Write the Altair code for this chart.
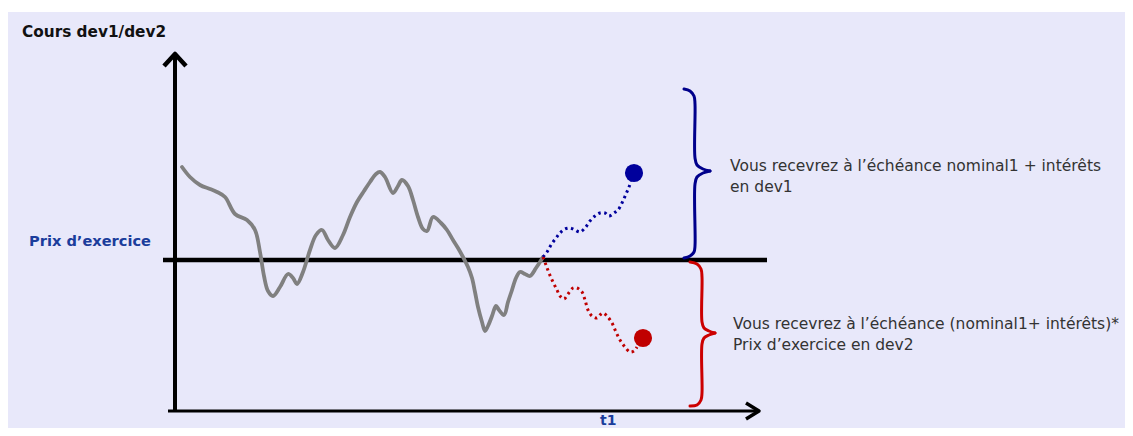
import altair as alt
import pandas as pd

# ---- data (screen-pixel coordinates) ----
gray_x = [182, 190, 200, 210, 217, 225, 235, 247, 255, 260, 264, 268, 273, 280, 288, 293, 297, 303, 310, 316, 322, 328, 335, 343, 350, 357, 364, 370, 376, 380, 385, 393, 398, 402, 408, 413, 418, 423, 427, 433, 441, 447, 453, 458, 463, 468, 472, 475, 478, 482, 485, 488, 492, 496, 499, 504, 508, 512, 516, 520, 525, 530, 536, 540, 543]
gray_y = [167, 177, 185, 189, 192, 197, 214, 220, 230, 252, 276, 291, 296, 287, 274, 278, 284, 272, 250, 235, 230, 240, 248, 235, 217, 202, 191, 182, 174, 172, 177, 193, 186, 180, 186, 200, 217, 229, 231, 217, 223, 230, 240, 248, 257, 267, 278, 292, 307, 322, 331, 326, 316, 306, 310, 315, 302, 290, 278, 272, 274, 276, 268, 262, 257]

blue_x = [543, 547, 551, 556, 560, 565, 570, 575, 580, 585, 590, 595, 600, 605, 609, 614, 618, 622, 626, 629, 631]
blue_y = [257, 252, 245, 238, 233, 229, 228, 230, 232, 228, 221, 216, 213, 213, 216, 213, 210, 203, 194, 187, 181]

red_x = [543, 546, 549, 553, 557, 560, 564, 568, 573, 577, 582, 585, 588, 592, 597, 600, 603, 607, 612, 616, 620, 625, 630, 634, 637]
red_y = [257, 265, 273, 282, 290, 296, 299, 294, 288, 288, 292, 300, 310, 316, 318, 315, 313, 316, 323, 332, 340, 347, 352, 351, 347]

dot_x = [634, 643]
dot_y = [173, 338]
dot_color = ["#00009c", "#c00000"]

# axes, strike line and arrow heads
vaxis_x = [175, 175]
vaxis_y = [412, 56]
haxis_x = [168, 757]
haxis_y = [411, 411]
strike_x = [163, 767]
strike_y = [260, 260]
up_arrow_x = [164, 175, 186]
up_arrow_y = [66, 54, 66]
right_arrow_x = [746, 759, 746]
right_arrow_y = [403, 411, 419]

# braces (top half, bottom half)
blue_brace_x = [684, 690, 694, 695, 695, 697, 703, 710, 703, 697, 695, 695, 694, 690, 684]
blue_brace_y = [89, 91, 96, 104, 158, 165, 169, 171, 173, 177, 184, 246, 252, 256, 258]
red_brace_x = [690, 697, 701, 702, 702, 704, 709, 715, 709, 704, 702, 702, 701, 697, 690]
red_brace_y = [262, 264, 269, 277, 322, 328, 331, 333, 335, 338, 344, 393, 400, 405, 406]

labels = ["Cours dev1/dev2", "Prix d\u2019exercice", "t1",
          "Vous recevrez \u00e0 l\u2019\u00e9ch\u00e9ance nominal1 + int\u00e9r\u00eats", "en dev1",
          "Vous recevrez \u00e0 l\u2019\u00e9ch\u00e9ance (nominal1+ int\u00e9r\u00eats)*", "Prix d\u2019exercice en dev2"]
label_x = [22, 29, 600, 730, 730, 733, 733]
label_y = [37, 246, 425, 171, 192, 329, 350]
label_color = ["#111111", "#1b3d9c", "#1b3d9c", "#333333", "#333333", "#333333", "#333333"]
label_weight = ["bold", "bold", "bold", "normal", "normal", "normal", "normal"]
label_size = [15.3, 14.6, 14, 15.5, 15.5, 15.5, 15.5]

# ---- chart ----
W, H = 1117, 416
X0, Y0 = 8, 12
xs = alt.Scale(domain=[X0, X0 + W], nice=False, zero=False)
ys = alt.Scale(domain=[Y0, Y0 + H], nice=False, zero=False, reverse=True)


def path_df(xv, yv, seg=None):
    d = pd.DataFrame({"x": xv, "y": yv, "o": list(range(len(xv)))})
    if seg is not None:
        d["seg"] = seg
    return d


def line_layer(df, color, width, dash=None, interp="linear", detail=False, cap="round"):
    kw = dict(color=color, strokeWidth=width, interpolate=interp, strokeCap=cap, strokeJoin="round")
    if dash:
        kw["strokeDash"] = dash
    enc = dict(x=alt.X("x:Q", scale=xs, axis=None), y=alt.Y("y:Q", scale=ys, axis=None), order="o:Q")
    if detail:
        enc["detail"] = "seg:N"
    return alt.Chart(df).mark_line(**kw).encode(**enc)


def brace_df(bx, by):
    half = len(bx) // 2
    top = path_df(bx[:half + 1], by[:half + 1], seg="a")
    bot = path_df(bx[half:], by[half:], seg="b")
    return pd.concat([top, bot], ignore_index=True)


layers = [
    line_layer(path_df(strike_x, strike_y), "black", 4.5, cap="butt"),
    line_layer(path_df(vaxis_x, vaxis_y), "black", 4, cap="butt"),
    line_layer(path_df(haxis_x, haxis_y), "black", 3, cap="butt"),
    line_layer(path_df(up_arrow_x, up_arrow_y), "black", 4.5, cap="butt"),
    line_layer(path_df(right_arrow_x, right_arrow_y), "black", 3.5, cap="butt"),
    line_layer(path_df(gray_x, gray_y), "#808080", 3.8, interp="catmull-rom"),
    line_layer(path_df(blue_x, blue_y), "#00009c", 3, dash=[2.5, 3.5], interp="catmull-rom", cap="butt"),
    line_layer(path_df(red_x, red_y), "#c00000", 3, dash=[2.5, 3.5], interp="catmull-rom", cap="butt"),
    line_layer(brace_df(blue_brace_x, blue_brace_y), "#00008b", 3, interp="catmull-rom", detail=True),
    line_layer(brace_df(red_brace_x, red_brace_y), "#cc0000", 3, interp="catmull-rom", detail=True),
]

dots = alt.Chart(pd.DataFrame({"x": dot_x, "y": dot_y, "c": dot_color})).mark_circle(size=330, opacity=1).encode(
    x=alt.X("x:Q", scale=xs, axis=None), y=alt.Y("y:Q", scale=ys, axis=None),
    color=alt.Color("c:N", scale=None))
layers.append(dots)

lab = pd.DataFrame({"t": labels, "x": label_x, "y": label_y})
for i in range(len(labels)):
    row = lab.iloc[[i]]
    layers.append(alt.Chart(row).mark_text(
        align="left", baseline="alphabetic", font="DejaVu Sans", fontSize=label_size[i],
        fontWeight=label_weight[i], color=label_color[i]).encode(
        x=alt.X("x:Q", scale=xs, axis=None), y=alt.Y("y:Q", scale=ys, axis=None), text="t:N"))

chart = alt.layer(*layers).properties(
    width=W, height=H, background="white",
    autosize=alt.AutoSizeParams(type="none"),
    padding={"left": 0, "top": 4, "right": 0, "bottom": 0},
).configure_view(fill="#e8e8fa", stroke=None)

chart.save("out.html", embed_options={"renderer": "svg", "actions": False})
